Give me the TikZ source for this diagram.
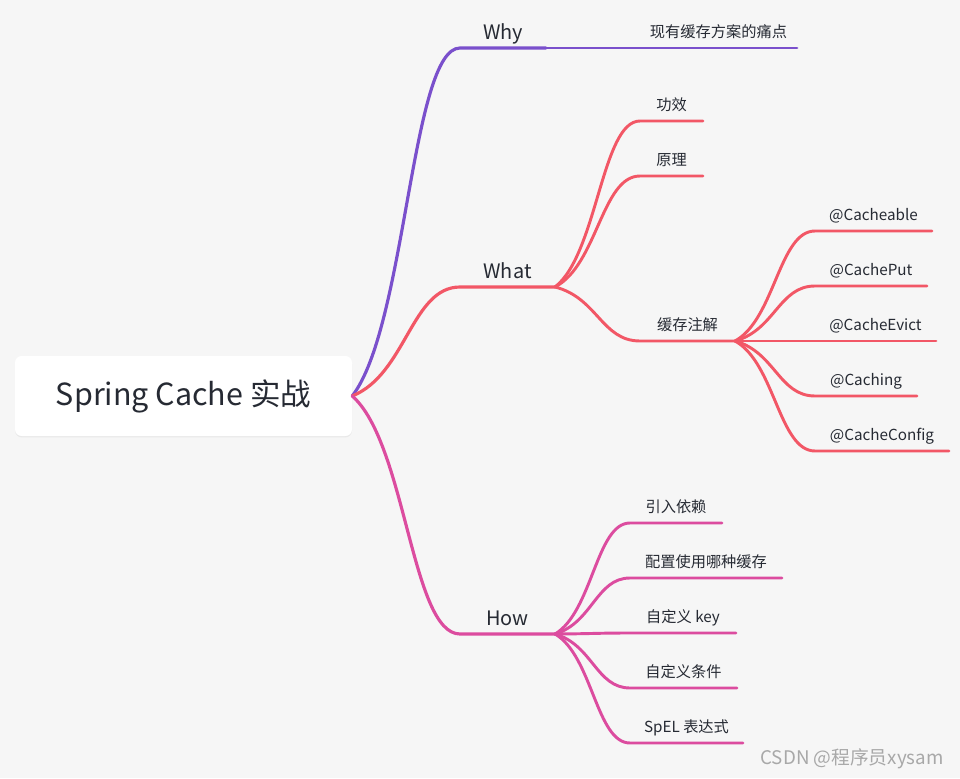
\documentclass[tikz,border=0pt]{standalone}
\usepackage{fontspec}
\setmainfont{Noto Sans CJK SC}
\usetikzlibrary{calc,shadows}

\definecolor{paper}{HTML}{F6F6F6}
\definecolor{ink}{HTML}{262A33}
\definecolor{whyc}{HTML}{7A50CC}
\definecolor{whatc}{HTML}{F25766}
\definecolor{howc}{HTML}{DC4C9F}
\definecolor{wmarkc}{HTML}{A8A8A8}

\begin{document}
\begin{tikzpicture}[
  x=0.3mm, y=-0.3mm,
  line cap=round,
  line join=round,
  every node/.style={text=ink},
  wide/.style={minimum width=#1*0.3mm},
  rootbox/.style={fill=white, rounded corners=2mm, inner sep=0pt,
    minimum width=337*0.3mm, minimum height=80*0.3mm,
    font=\fontsize{26}{30}\selectfont,
    drop shadow={shadow xshift=0pt, shadow yshift=-1.2pt, opacity=0.10}},
  topic/.style={anchor=south west, inner xsep=0pt, inner ysep=3pt, outer sep=0pt,
    text height=12pt, text depth=4pt, font=\fontsize{17}{20}\selectfont},
  leaf/.style={topic, text height=10pt, text depth=6pt, font=\fontsize{13}{16}\selectfont},
  wmark/.style={text=wmarkc, font=\fontsize{16}{18}\selectfont},
  link/.style={to path={let \p1=(\tikztostart), \p2=(\tikztotarget) in
    .. controls ($(\p1)+({0.5*(\x2-\x1)},{0.2*(\y2-\y1)})$)
    and ($(\p2)+({-0.45*(\x2-\x1)},0pt)$) .. (\tikztotarget)}},
  trunk/.style={line width=2.7pt},
  twig/.style={line width=2.5pt}
]

% page and background
\useasboundingbox (0,0) rectangle (960,778);
\fill[paper] (0,0) rectangle (960,778);

% --- central topic ---
\node[rootbox] (root) at (183.5,396) {Spring Cache 实战};

% --- first level ---
\node[topic, wide=86] (why) at (460,48) {Why};
\node[topic, wide=95] (what) at (460,287) {What};
\node[topic, wide=95] (how) at (460,634) {How};

% --- Why ---
\node[leaf, wide=157] (pain) at (640,48) {现有缓存方案的痛点};

% --- What ---
\node[leaf, wide=63] (gx) at (640,121) {功效};
\node[leaf, wide=63] (yl) at (640,176) {原理};
\node[leaf, wide=95] (zj) at (640,341) {缓存注解};

\node[leaf, wide=117] (able) at (815,231) {@Cacheable};
\node[leaf, wide=112] (put) at (815,286) {@CachePut};
\node[leaf, wide=121] (evict) at (815,341) {@CacheEvict};
\node[leaf, wide=102] (caching) at (815,396) {@Caching};
\node[leaf, wide=134] (config) at (815,451) {@CacheConfig};

% --- How ---
\node[leaf, wide=92] (dep) at (630,523) {引入依赖};
\node[leaf, wide=152] (cfg) at (630,578) {配置使用哪种缓存};
\node[leaf, wide=106] (key) at (630,633) {自定义 key};
\node[leaf, wide=107] (cond) at (630,688) {自定义条件};
\node[leaf, wide=113] (spel) at (630,743) {SpEL 表达式};

% --- connectors (curve + underline) ---
\draw[whyc, trunk] (root.east) to[link] (why.south west) -- (why.south east);
\draw[whyc, twig] (why.south east) to[link] (pain.south west) -- (pain.south east);

\draw[whatc, trunk] (root.east) to[link] (what.south west) -- (what.south east);
\draw[whatc, twig] (what.south east) to[link] (gx.south west) -- (gx.south east);
\draw[whatc, twig] (what.south east) to[link] (yl.south west) -- (yl.south east);
\draw[whatc, twig] (what.south east) to[link] (zj.south west) -- (zj.south east);
\draw[whatc, twig] (zj.south east) to[link] (able.south west) -- (able.south east);
\draw[whatc, twig] (zj.south east) to[link] (put.south west) -- (put.south east);
\draw[whatc, twig] (zj.south east) to[link] (evict.south west) -- (evict.south east);
\draw[whatc, twig] (zj.south east) to[link] (caching.south west) -- (caching.south east);
\draw[whatc, twig] (zj.south east) to[link] (config.south west) -- (config.south east);

\draw[howc, trunk] (root.east) to[link] (how.south west) -- (how.south east);
\draw[howc, twig] (how.south east) to[link] (dep.south west) -- (dep.south east);
\draw[howc, twig] (how.south east) to[link] (cfg.south west) -- (cfg.south east);
\draw[howc, twig] (how.south east) to[link] (key.south west) -- (key.south east);
\draw[howc, twig] (how.south east) to[link] (cond.south west) -- (cond.south east);
\draw[howc, twig] (how.south east) to[link] (spel.south west) -- (spel.south east);

% watermark
\node[wmark] (credit) at (852,759) {CSDN @程序员xysam};

\end{tikzpicture}
\end{document}
